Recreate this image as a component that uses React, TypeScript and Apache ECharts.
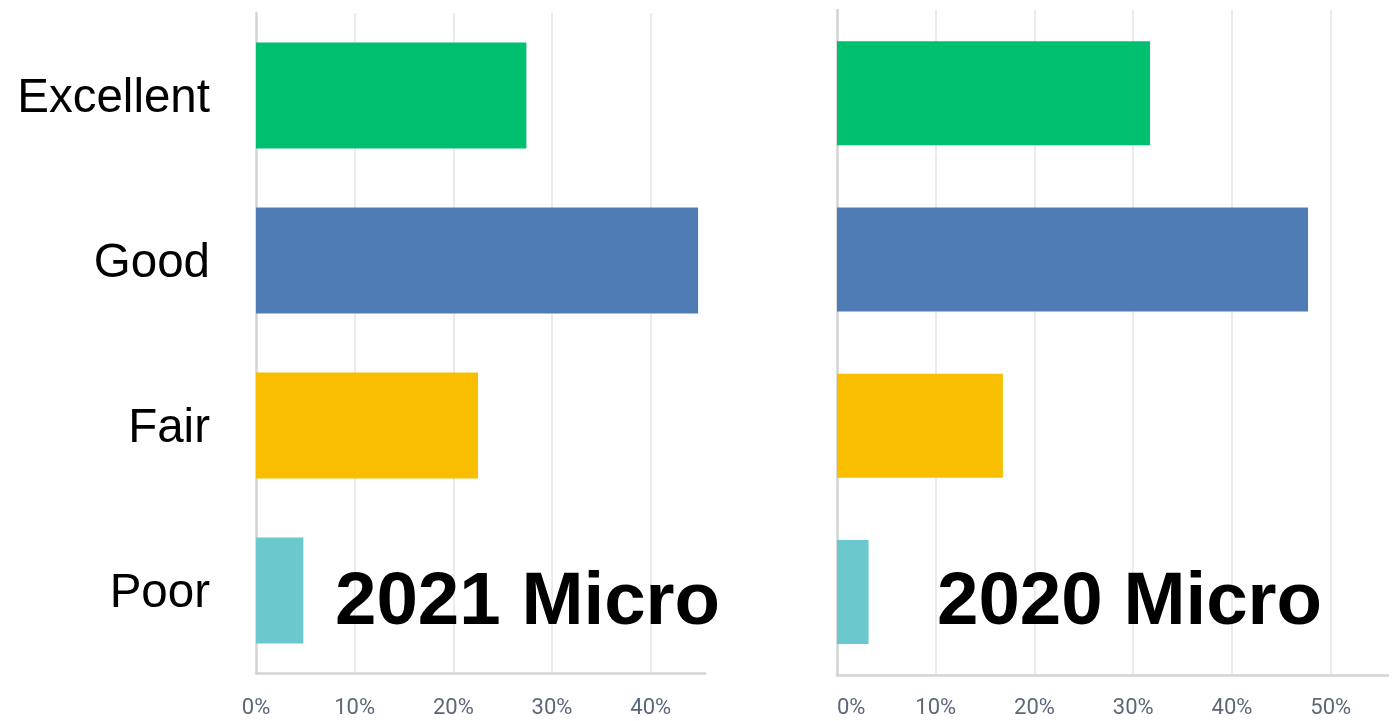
import React, { useEffect, useRef } from "react";
import * as echarts from "echarts";

const categories = ["Excellent", "Good", "Fair", "Poor"];
const values2021 = [27.4, 44.8, 22.5, 4.8];
const values2020 = [31.7, 47.7, 16.8, 3.2];
const barColors = ["#00BF6F", "#507CB6", "#F9BE00", "#6BC8CD"];
const titles = ["2021 Micro", "2020 Micro"];

export default function App() {
  const ref = useRef<HTMLDivElement>(null);
  useEffect(() => {
    document.body.style.margin = "0";
    const chart = echarts.init(ref.current!, null, { renderer: "svg" });
    const axisLabel = {
      color: "#5c687a",
      fontSize: 22,
      lineHeight: 22,
      fontFamily: "Roboto",
      margin: 22,
      formatter: (v: number) => (v % 10 === 0 ? v + "%" : ""),
      showMaxLabel: false,
    };
    const xCommon = {
      type: "value",
      min: 0,
      interval: 10,
      axisLine: { show: true, lineStyle: { color: "#d3d3d3", width: 2.5 } },
      axisTick: { show: false },
      splitLine: { show: true, showMinLine: false, showMaxLine: false, lineStyle: { color: "#ebebeb", width: 2 } },
    };
    const yCommon = {
      type: "category",
      data: categories,
      inverse: true,
      axisTick: { show: false },
      axisLine: { show: true, lineStyle: { color: "#d3d3d3", width: 2.5 } },
    };
    chart.setOption({
      animation: false,
      grid: [
        { left: 256, right: 690, top: 13, bottom: 48 },
        { left: 837, right: 7, top: 10, bottom: 46 },
      ],
      xAxis: [
        { ...xCommon, gridIndex: 0, max: 45.5, axisLabel: { ...axisLabel } },
        { ...xCommon, gridIndex: 1, max: 55.8, axisLabel: { ...axisLabel, margin: 20, alignMinLabel: "left" } },
      ],
      yAxis: [
        {
          ...yCommon,
          gridIndex: 0,
          axisLabel: { color: "#000", fontSize: 47.5, fontFamily: "Liberation Sans", margin: 46, padding: [6, 0, 0, 0] },
        },
        { ...yCommon, gridIndex: 1, axisLabel: { show: false } },
      ],
      series: [
        {
          type: "bar",
          xAxisIndex: 0,
          yAxisIndex: 0,
          barWidth: 106,
          data: values2021.map((v, i) => ({ value: v, itemStyle: { color: barColors[i] } })),
        },
        {
          type: "bar",
          xAxisIndex: 1,
          yAxisIndex: 1,
          barWidth: 104,
          data: values2020.map((v, i) => ({ value: v, itemStyle: { color: barColors[i] } })),
        },
      ],
      graphic: [
        {
          type: "text",
          left: 335,
          top: 561,
          z: 100,
          style: { text: titles[0], fontSize: 74.5, fontWeight: "bold", fontFamily: "Liberation Sans", fill: "#000" },
        },
        {
          type: "text",
          left: 937,
          top: 561,
          z: 100,
          style: { text: titles[1], fontSize: 74.5, fontWeight: "bold", fontFamily: "Liberation Sans", fill: "#000" },
        },
      ],
    });
    return () => chart.dispose();
  }, []);
  return <div ref={ref} style={{ position: "fixed", left: 0, top: 0, width: 1395, height: 721 }} />;
}
